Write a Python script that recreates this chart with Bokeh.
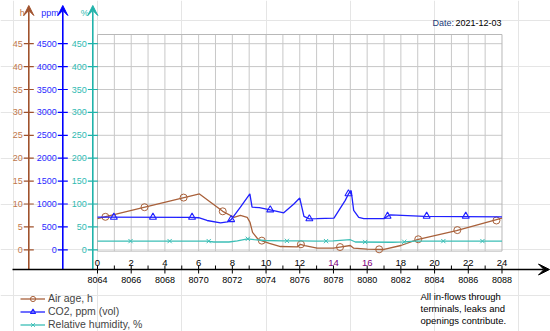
from bokeh.plotting import figure
from bokeh.models import Range1d, Arrow, VeeHead, Legend, LegendItem, ColumnDataSource
from bokeh.core.properties import value
from bokeh.embed import file_html
from bokeh.resources import INLINE

# ---------------- data ----------------
air_hours = [0, 6.05, 7.43, 8.09, 8.48, 8.88, 9.05, 9.2, 9.55, 10.2, 10.86, 11.85, 12.04, 12.3,
             13.03, 14.0, 14.38, 15.0, 15.2, 16.0, 17.0, 18.0, 18.97, 21.3, 24.0]
air_age = [6.8, 12.2, 8.4, 7.1, 7.5, 7.1, 6.0, 3.8, 2.2, 1.4, 0.72, 0.64, 1.2, 0.9,
           0.35, 0.35, 0.6, 0.94, 0.35, 0.15, 0.07, 0.94, 2.2, 4.2, 6.9]
air_mk_hours = [0.47, 2.79, 5.11, 7.43, 9.75, 12.07, 14.39, 16.71, 19.03, 21.35, 23.67]
air_mk_vals = [7.2, 9.3, 11.4, 8.4, 2.0, 1.2, 0.6, 0.1, 2.3, 4.3, 6.4]

co2_hours = [0, 5.5, 6.0, 6.5, 7.3, 7.7, 7.93, 8.48, 9.04, 9.17, 9.6, 10.25, 11.05, 11.65, 12.0,
             12.25, 12.57, 13.0, 14.03, 14.7, 14.89, 15.05, 15.2, 15.5, 15.8, 17.0, 17.21, 17.39,
             19.4, 24.0]
co2_ppm = [712, 710, 700, 640, 590, 610, 660, 930, 1220, 930, 920, 870, 807, 1000, 1130,
           730, 677, 680, 690, 1080, 1220, 1295, 860, 710, 680, 680, 734, 764, 730, 720]
co2_mk_hours = [0.97, 3.29, 5.61, 7.93, 10.25, 12.57, 14.89, 17.21, 19.53, 21.85]
co2_mk_vals = [712, 712, 712, 660, 873, 677, 1223, 734, 734, 734]

rh_hours = [0, 6.5, 6.9, 7.8, 8.3, 8.9, 9.3, 9.9, 11.0, 12.0, 13.0, 14.0, 15.0, 15.3, 17.5,
            18.2, 18.8, 24.0]
rh_pct = [19, 19, 17, 17, 19.5, 24, 22, 20.3, 19.5, 19.5, 19, 19.5, 22, 17, 16.5, 17.5, 19, 19]
rh_mk_hours = [1.96, 4.28, 6.6, 8.92, 11.24, 13.56, 15.88, 18.2, 20.52, 22.84]
rh_mk_vals = [19, 19, 19, 24, 19.5, 19, 17, 17.5, 19, 19]

x_ticks = [0, 2, 4, 6, 8, 10, 12, 14, 16, 18, 20, 22, 24]
x_minor = [1, 3, 5, 7, 9, 11, 13, 15, 17, 19, 21, 23]
x_labels = ["0", "2", "4", "6", "8", "10", "12", "14", "16", "18", "20", "22", "24"]
x_label_colors = ["black"] * 7 + ["#800080", "#800080"] + ["black"] * 4
hoy_labels = ["8064", "8066", "8068", "8070", "8072", "8074", "8076", "8078", "8080",
              "8082", "8084", "8086", "8088"]
grid_hours = list(range(1, 24))

h_ticks = [0, 5, 10, 15, 20, 25, 30, 35, 40, 45]
ppm_ticks = [0, 500, 1000, 1500, 2000, 2500, 3000, 3500, 4000, 4500]
pct_ticks = [0, 50, 100, 150, 200, 250, 300, 350, 400, 450]

series_labels = ["Air age, h", "CO2, ppm (vol)", "Relative humidity, %"]
note_lines = ["All in-flows through", "terminals, leaks and", "openings contribute."]
date_label = "Date:"
date_value = "2021-12-03"

# ---------------- layout (page pixels) ----------------
W, H, OFF = 550, 331, 0
X0, SX = 97.0, 16.854      # hour 0 position, px per hour
Y0, SY = 249.3, 4.58       # h=0 position, px per h unit
FONT = "Liberation Sans"

def dx(px):
    return (px - X0) / SX

def dy(py):
    return (Y0 - py) / SY

AIR = "#a9613b"
CO2 = "#2020ff"
RH = "#3cbfb6"
GRID = "#c8c8c8"

yr = Range1d(dy(OFF + H), dy(OFF))
p = figure(width=W, height=H, x_range=Range1d(dx(OFF), dx(OFF + W)), y_range=yr,
           output_backend="svg", toolbar_location=None,
           x_axis_location=None, y_axis_location=None, min_border=0)
p.outline_line_color = None
p.background_fill_color = "white"
p.border_fill_color = "white"
p.extra_y_ranges = {"ppm": Range1d(yr.start * 100, yr.end * 100),
                    "pct": Range1d(yr.start * 10, yr.end * 10)}

box_bot, box_top = dy(250.6), dy(34)
# grid
p.segment(x0=grid_hours, x1=grid_hours, y0=[box_bot] * len(grid_hours),
          y1=[box_top] * len(grid_hours), line_color=GRID, line_width=1)
p.segment(x0=[0] * 9, x1=[24] * 9, y0=h_ticks[1:], y1=h_ticks[1:], line_color=GRID, line_width=1)
p.quad(left=[0], right=[24], bottom=[box_bot], top=[box_top], fill_color=None,
       line_color="#b8b8b8", line_width=1)

# series
r_air_l = p.line(air_hours, air_age, line_color=AIR, line_width=1.3)
r_air_m = p.scatter(air_mk_hours, air_mk_vals, marker="circle", size=7, fill_color=None,
                    line_color=AIR, line_width=1)
r_co2_l = p.line(co2_hours, co2_ppm, line_color=CO2, line_width=1.3, y_range_name="ppm")
r_co2_m = p.scatter(co2_mk_hours, co2_mk_vals, marker="triangle", size=7, fill_color=None,
                    line_color=CO2, line_width=1.1, y_range_name="ppm")
r_rh_l = p.line(rh_hours, rh_pct, line_color=RH, line_width=1.3, y_range_name="pct")
r_rh_m = p.scatter(rh_mk_hours, rh_mk_vals, marker="x", size=6, line_color=RH,
                   line_width=1, y_range_name="pct")

# left axes
axes_spec = [
    (28.3, "#a0522d", "#c0764a", h_ticks, "default", "h"),
    (62.3, "#0000ff", "#2a2aff", ppm_ticks, "ppm", "ppm"),
    (92.3, "#20b2aa", "#2fbab2", pct_ticks, "pct", "%"),
]
for L, col, lcol, ticks, rname, title in axes_spec:
    p.add_layout(Arrow(end=VeeHead(size=10, fill_color=col, line_color=col, line_width=1),
                       x_start=dx(L), y_start=dy(269), x_end=dx(L), y_end=dy(5),
                       line_color=col, line_width=1.6))
    n = len(ticks)
    kw = {} if rname == "default" else {"y_range_name": rname}
    p.segment(x0=[dx(L - 5)] * n, x1=[dx(L + 5)] * n, y0=ticks, y1=ticks,
              line_color=col, line_width=1.2, **kw)
    p.text(x=[dx(L - 6)] * n, y=ticks, text=[str(t) for t in ticks], text_align="right",
           text_baseline="middle", text_font=value(FONT), text_font_size="9px",
           text_color=lcol, **kw)
    p.text(x=[dx(L - 4)], y=[dy(12.5)], text=[title], text_align="right",
           text_baseline="middle", text_font=value(FONT), text_font_size="9px",
           text_color=lcol)

# bottom axis
p.add_layout(Arrow(end=VeeHead(size=11, fill_color="black", line_color="black", line_width=1),
                   x_start=dx(12), y_start=dy(269), x_end=dx(549), y_end=dy(269),
                   line_color="black", line_width=1.3))
p.segment(x0=x_ticks, x1=x_ticks, y0=[dy(265)] * len(x_ticks), y1=[dy(273)] * len(x_ticks),
          line_color="black", line_width=1)
p.segment(x0=x_minor, x1=x_minor, y0=[dy(265)] * len(x_minor), y1=[dy(269)] * len(x_minor),
          line_color="black", line_width=1)
src_top = ColumnDataSource(dict(x=x_ticks, y=[dy(262.5)] * len(x_ticks), t=x_labels,
                                c=x_label_colors))
p.text(x="x", y="y", text="t", text_color="c", source=src_top, text_align="center",
       text_baseline="middle", text_font=value(FONT), text_font_size="9.5px")
p.text(x=x_ticks, y=[dy(279.5)] * len(x_ticks), text=hoy_labels, text_align="center",
       text_baseline="middle", text_font=value(FONT), text_font_size="9px", text_color="black")

# note
p.text(x=[dx(420)] * 3, y=[dy(295.7), dy(308), dy(320)], text=note_lines, text_align="left",
       text_baseline="middle", text_font=value(FONT), text_font_size="9.5px", text_color="black")

# date
p.text(x=[dx(501)], y=[dy(22)], text=[date_value], text_align="right", text_baseline="middle",
       text_font=value(FONT), text_font_size="9px", text_color="black")
p.text(x=[dx(453.5)], y=[dy(22)], text=[date_label], text_align="right", text_baseline="middle",
       text_font=value(FONT), text_font_size="9px", text_color="#1c3a7a")

legend = Legend(items=[LegendItem(label=series_labels[0], renderers=[r_air_l, r_air_m]),
                       LegendItem(label=series_labels[1], renderers=[r_co2_l, r_co2_m]),
                       LegendItem(label=series_labels[2], renderers=[r_rh_l, r_rh_m])],
                location=(20, 0.5), orientation="vertical", glyph_width=25, glyph_height=13,
                label_height=13, spacing=0, padding=0, margin=0, label_standoff=3,
                label_text_font=FONT, label_text_font_size="10.5px",
                background_fill_alpha=0, border_line_alpha=0)
p.add_layout(legend)

open("out.html", "w").write(file_html(p, INLINE))
